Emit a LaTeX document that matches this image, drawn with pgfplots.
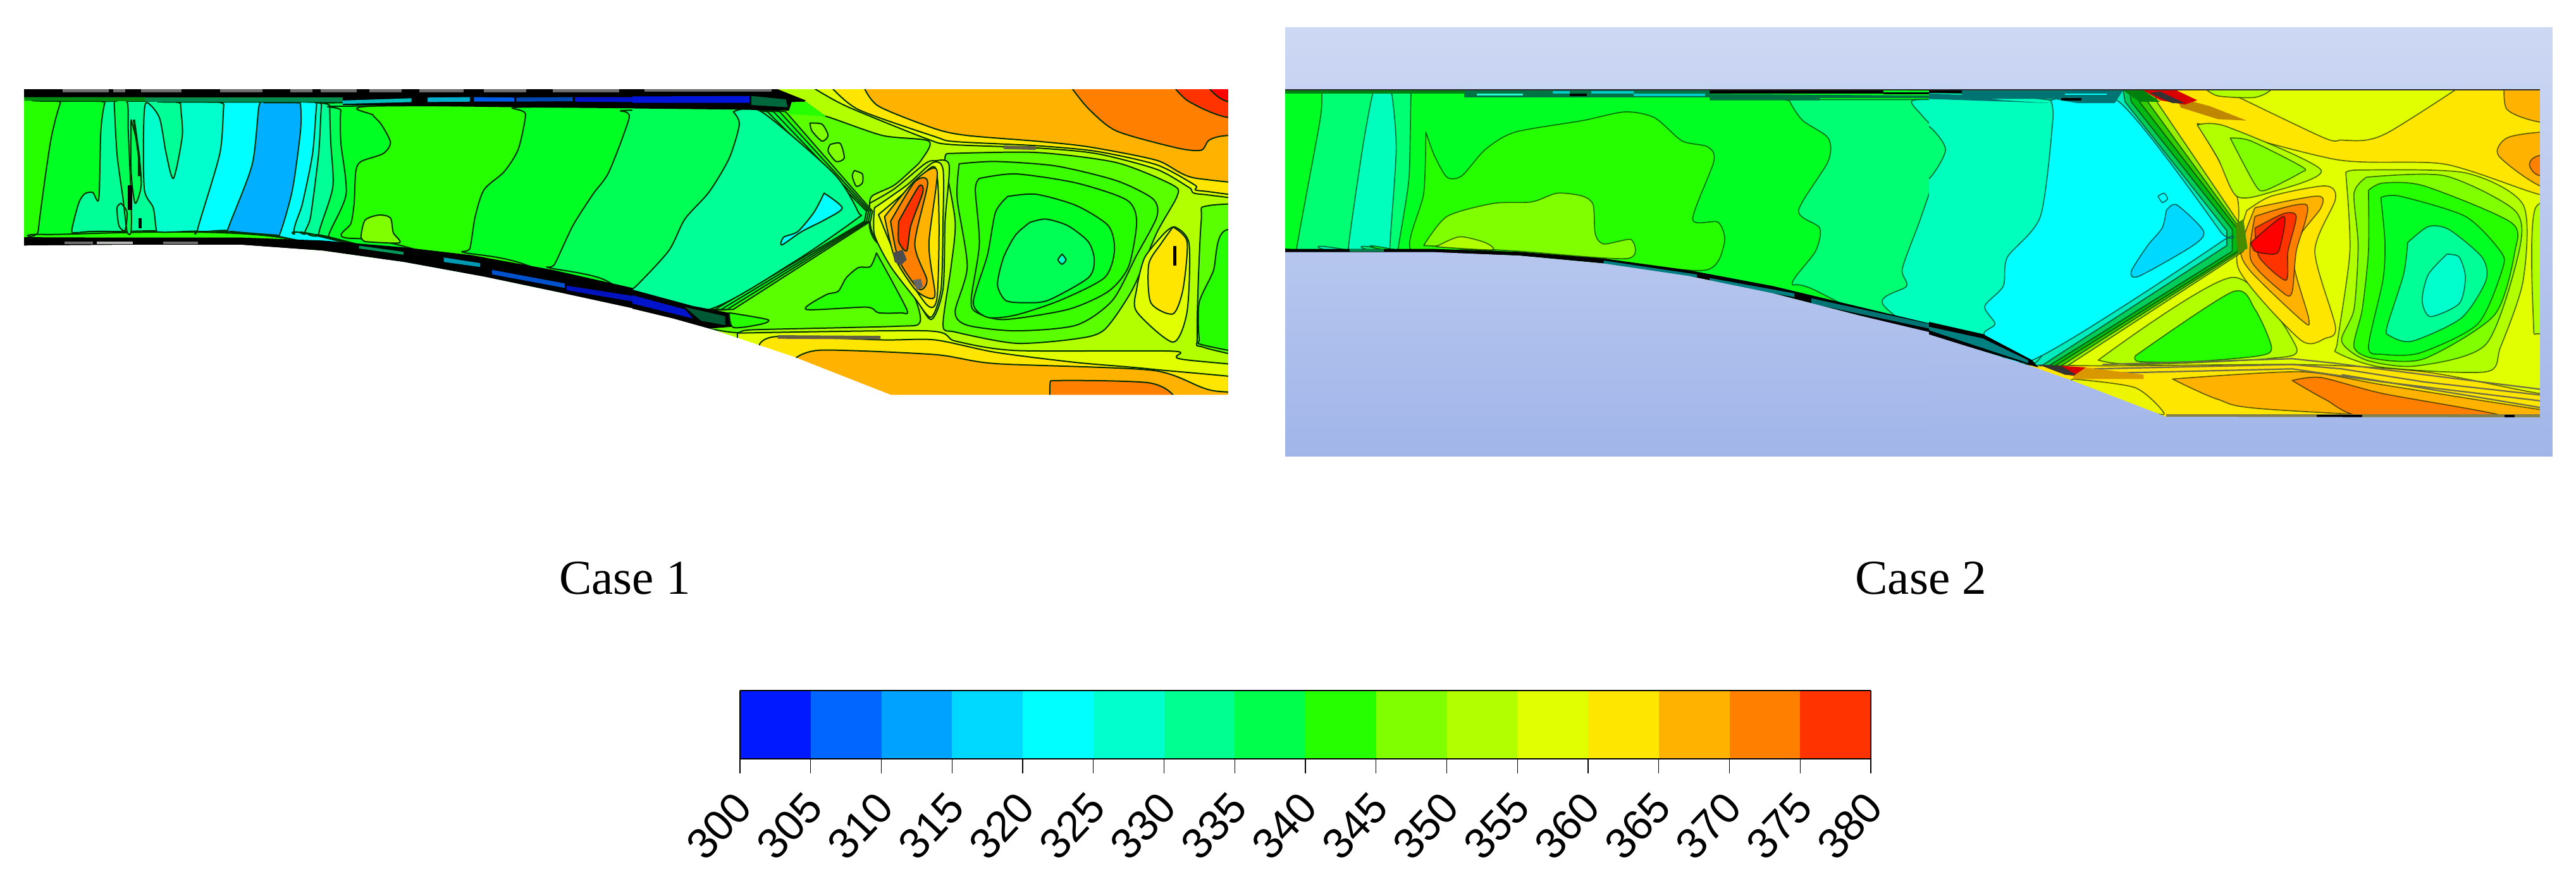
\documentclass[border=0pt]{standalone}
\usepackage{pgfplots}
\pgfplotsset{compat=1.18}
\usepackage{fontspec}
\setmainfont{Liberation Serif}
\newfontfamily\arialf{Liberation Sans}
\definecolor{c0}{RGB}{0,25,255}
\definecolor{c1}{RGB}{0,102,255}
\definecolor{c2}{RGB}{0,162,255}
\definecolor{c3}{RGB}{0,217,255}
\definecolor{c4}{RGB}{0,255,255}
\definecolor{c5}{RGB}{0,255,204}
\definecolor{c6}{RGB}{0,255,145}
\definecolor{c7}{RGB}{0,255,77}
\definecolor{c8}{RGB}{38,255,0}
\definecolor{c9}{RGB}{128,255,0}
\definecolor{c10}{RGB}{178,255,0}
\definecolor{c11}{RGB}{225,255,0}
\definecolor{c12}{RGB}{255,230,0}
\definecolor{c13}{RGB}{255,179,0}
\definecolor{c14}{RGB}{255,128,0}
\definecolor{c15}{RGB}{255,51,0}
\definecolor{g1}{RGB}{38,255,0}
\definecolor{g2}{RGB}{0,255,35}
\definecolor{g3}{RGB}{0,255,85}
\definecolor{g4}{RGB}{0,255,150}
\definecolor{g5}{RGB}{0,255,205}
\definecolor{gb}{RGB}{90,255,0}
\definecolor{b2}{RGB}{0,175,255}
\definecolor{dk}{RGB}{110,110,110}
\definecolor{w1}{RGB}{150,240,0}
\definecolor{w2}{RGB}{50,205,0}
\definecolor{w3}{RGB}{0,185,20}
\definecolor{w4}{RGB}{0,205,90}
\definecolor{w5}{RGB}{0,235,190}
\definecolor{bgT}{RGB}{205,216,244}
\definecolor{bgA}{RGB}{199,211,242}
\definecolor{bgB}{RGB}{161,181,233}
\definecolor{bgC}{RGB}{182,198,238}
\definecolor{bgD}{RGB}{174,191,236}
\definecolor{bgE}{RGB}{165,184,234}
\newcommand{\R}[2]{\addplot[fill=#1,ctl,smooth,tension=0.45,line join=round] coordinates {#2} --cycle;}
\newcommand{\Rl}[2]{\addplot[fill=#1,ctl,line join=round] coordinates {#2} --cycle;}
\newcommand{\Bg}[2]{\addplot[fill=#1,draw=none] coordinates {#2} --cycle;}
\newcommand{\Ln}[1]{\addplot[ctl,smooth,tension=0.45,line cap=round] coordinates {#1};}
\newcommand{\Sh}[3]{\addplot[top color=#1,bottom color=#2,draw=none] coordinates {#3} --cycle;}
\pgfplotsset{crop/.style={anchor=north west,scale only axis,hide axis,xmin=0,xmax=1568,ymin=0,ymax=1568,y dir=reverse,clip=true}}
\begin{document}
\begin{tikzpicture}
\path[use as bounding box,fill=white] (0,0) rectangle (1018.25pt,-347.5pt);
\tikzset{ctl/.style={draw=black!82!green,line width=0.5pt}}
% ---------------- Case 1, left
\begin{axis}[crop,at={(0pt,-25pt)},width=250pt,height=140pt]
\Bg{g1}{(0,100)(1600,100)(1600,1200)(0,1200)}
\R{g2}{(1650,168)(165,168)(150,175)(125,350)(95,740)(105,758)(700,772)(1650,1150)}
\R{g4}{(1650,168)(275,168)(260,175)(250,300)(245,600)(230,572)(210,578)(195,620)(178,740)(190,750)(270,745)(700,772)(1650,1150)}
\R{g3}{(283,170)(290,400)(305,600)(315,745)(325,745)(325,600)(318,300)(315,170)(283,170)}
\R{g5}{(1650,172)(460,172)(448,180)(452,320)(430,510)(412,400)(395,240)(362,175)(356,300)(358,560)(380,640)(388,740)(400,748)(700,772)(1650,1150)}
\R{g3}{(325,250)(343,380)(350,540)(335,620)(325,480)(325,250)}
\Ln{(300,620)(290,640)(295,720)(310,740)(315,660)(300,620)}
\addplot[black,line width=1.6pt] coordinates {(322,540)(322,650)};
\addplot[black,line width=1.2pt] coordinates {(347,685)(347,730)};
\addplot[black!80!green,line width=0.9pt] coordinates {(332,250)(345,420)(345,500)};
\R{c4}{(1650,172)(565,172)(555,185)(545,400)(490,735)(500,745)(700,770)(1650,1150)}
\R{b2}{(655,175)(642,190)(625,450)(565,735)(575,745)(680,760)(695,750)(725,560)(745,300)(745,185)(735,175)(655,175)}
\R{g5}{(1650,172)(790,172)(785,180)(775,400)(750,620)(730,752)(800,770)(1650,1150)}
\R{g4}{(1650,172)(805,172)(797,185)(790,400)(770,680)(757,755)(810,772)(1650,1150)}
\R{g3}{(1650,175)(830,175)(818,190)(820,350)(825,550)(790,758)(820,775)(1650,1150)}
\R{g2}{(1650,190)(860,190)(845,210)(845,350)(858,580)(815,762)(840,780)(1650,1150)}
\R{g1}{(1650,190)(925,190)(925,230)(945,270)(968,350)(950,400)(895,435)(882,480)(878,620)(870,710)(850,770)(1000,810)(1650,1150)}
\R{c9}{(905,790)(895,770)(905,695)(940,672)(968,685)(975,750)(990,795)(905,790)}
\R{g2}{(1650,195)(1285,195)(1303,225)(1285,380)(1250,480)(1200,560)(1178,680)(1165,820)(1150,838)(1300,890)(1650,1150)}
\R{g3}{(1650,210)(1540,210)(1560,240)(1510,480)(1470,580)(1420,720)(1375,890)(1360,905)(1500,960)(1650,1150)}
% boundary layers
\Bg{black}{(0,115)(1600,115)(1600,200)(1285,195)(850,185)(850,152)(0,152)}
\Bg{g2!55!black}{(60,150)(360,150)(360,168)(60,166)}
\Bg{g4!55!black}{(360,152)(850,152)(850,172)(360,170)}
\Bg{c4!75!black}{(850,165)(1020,155)(1020,172)(850,180)}
\Bg{c3!80!black}{(1060,152)(1165,150)(1165,170)(1060,172)}
\Bg{c1!90!black}{(1175,150)(1275,152)(1275,170)(1175,170)}
\Bg{c1!70!black}{(1280,152)(1420,150)(1420,168)(1280,170)}
\Bg{c0!80!black}{(1425,150)(1568,150)(1568,172)(1425,170)}
\Bg{dk}{(155,115)(270,115)(270,128)(155,128)}\Bg{dk}{(280,115)(310,115)(310,128)(280,128)}\Bg{dk}{(350,115)(450,115)(450,128)(350,128)}\Bg{dk}{(545,115)(650,115)(650,128)(545,128)}\Bg{dk}{(720,115)(775,115)(775,128)(720,128)}\Bg{dk}{(795,115)(885,115)(885,128)(795,128)}\Bg{dk}{(915,115)(995,115)(995,128)(915,128)}\Bg{dk}{(1040,115)(1150,115)(1150,128)(1040,128)}\Bg{dk}{(1200,115)(1305,115)(1305,128)(1200,128)}\Bg{dk}{(1370,115)(1535,115)(1535,128)(1370,128)}
\Bg{black}{(0,770)(300,772)(600,772)(800,785)(1000,815)(1170,850)(1370,915)(1568,995)(1600,1010)(1600,1110)(1400,1020)(1200,945)(1000,880)(800,830)(600,805)(300,805)(0,810)}
\Bg{g4!60!black}{(890,808)(1000,835)(1000,848)(890,820)}
\Bg{c3!70!black}{(1100,860)(1190,885)(1190,902)(1100,880)}
\Bg{c1!80!black}{(1220,915)(1400,975)(1400,995)(1220,935)}
\Bg{c0!75!black}{(1405,985)(1568,1030)(1568,1055)(1405,1005)}
\Bg{dk}{(160,790)(230,790)(230,802)(160,802)}\Bg{dk!50!white}{(240,790)(330,790)(330,802)(240,802)}\Bg{dk}{(405,790)(490,790)(490,802)(405,802)}
% masks
\Bg{white}{(0,808)(300,804)(600,804)(800,830)(1000,880)(1200,945)(1400,1020)(1568,1085)(1650,1120)(1650,1600)(0,1600)}
\Bg{white}{(-5,-5)(60,-5)(60,1600)(-5,1600)}
\Bg{white}{(0,-5)(1600,-5)(1600,115)(0,115)}
\end{axis}
% ---------------- Case 1, right
\begin{axis}[crop,at={(250pt,-25pt)},width=250pt,height=140pt]
\Bg{c10}{(-10,100)(1600,100)(1600,1600)(-10,1600)}
\R{c11}{(440,100)(530,190)(730,335)(790,360)(1000,375)(1150,400)(1300,470)(1380,550)(1410,580)(1650,580)(1650,100)}
\R{c12}{(490,100)(560,205)(750,325)(800,347)(1000,365)(1150,390)(1300,450)(1395,540)(1410,565)(1650,570)(1650,100)}
\R{c13}{(572,100)(610,190)(750,290)(830,320)(1000,345)(1130,370)(1300,430)(1400,510)(1650,510)(1650,100)}
\R{c14}{(1085,100)(1130,200)(1200,300)(1350,375)(1410,385)(1430,340)(1477,320)(1650,320)(1650,100)}
\R{c15}{(1340,100)(1380,170)(1477,240)(1650,240)(1650,100)}
\R{red}{(1425,100)(1477,170)(1650,180)(1650,100)}
\R{c11}{(260,1195)(730,1185)(800,1230)(950,1272)(1340,1275)(1360,1310)(1650,1380)(1650,1600)(260,1600)}
\R{c12}{(315,1245)(360,1210)(620,1225)(750,1225)(900,1280)(1100,1325)(1290,1355)(1650,1430)(1650,1600)(315,1600)}
\R{c13}{(405,1305)(470,1270)(750,1290)(900,1330)(1290,1360)(1440,1450)(1650,1470)(1650,1600)(405,1600)}
\R{c14}{(1040,1600)(1035,1425)(1060,1405)(1280,1415)(1345,1480)(1345,1600)}
\addplot[black!70!yellow,line width=1.4pt] coordinates {(360,1212)(615,1215)};
\addplot[black!70!yellow,line width=1.4pt] coordinates {(920,372)(1000,376)};
% vortex boxes
\R{gb}{(780,400)(1000,395)(1200,440)(1340,540)(1350,590)(1300,750)(1240,1000)(1170,1180)(1100,1220)(950,1240)(800,1190)(770,1160)(790,900)(800,700)(775,440)(780,400)}
\R{c8!60!gb}{(810,445)(900,435)(1050,455)(1200,520)(1290,600)(1300,680)(1250,850)(1190,1050)(1100,1160)(950,1185)(830,1160)(800,1100)(830,900)(805,600)(810,445)}
\R{c8}{(860,510)(950,490)(1100,530)(1225,605)(1250,700)(1230,900)(1180,1010)(1080,1090)(920,1135)(850,1100)(840,1040)(860,800)(850,560)(860,510)}
\R{g2}{(930,590)(1000,580)(1100,630)(1180,720)(1195,830)(1170,950)(1060,1050)(950,1115)(880,1125)(845,1060)(880,850)(900,660)(930,590)}
\R{g3}{(985,705)(1025,690)(1080,720)(1130,790)(1145,870)(1130,950)(1030,1050)(970,1060)(925,1050)(905,980)(920,860)(950,760)(985,705)}
\R{g5}{(1065,845)(1075,870)(1065,890)(1055,870)(1065,845)}
% lens
\R{c11}{(1320,750)(1345,725)(1380,800)(1375,1100)(1340,1235)(1250,1100)(1250,1000)(1270,860)(1320,750)}
\R{c12}{(1340,725)(1375,790)(1365,1000)(1340,1110)(1285,1060)(1280,890)(1310,800)(1340,725)}
\addplot[black,line width=1.2pt] coordinates {(1345,810)(1345,895)};
\R{gb}{(1650,615)(1430,630)(1410,700)(1400,1200)(1420,1260)(1650,1350)}
\R{c8}{(1650,740)(1470,740)(1440,920)(1405,1060)(1405,1220)(1420,1250)(1650,1330)}
% post-shock zones
\R{gb}{(-50,100)(385,195)(480,235)(620,320)(735,345)(716,429)(690,476)(648,541)(594,588)(588,635)(588,728)(601,784)(638,849)(700,1040)(712,1150)(650,1165)(300,1180)(240,1190)(-50,1100)}
\R{c9}{(440,265)(470,270)(485,320)(470,345)(445,300)(440,265)}
\R{c9}{(490,360)(515,355)(525,420)(505,435)(485,390)(490,360)}
\R{c9}{(550,475)(570,490)(570,530)(555,545)(545,500)(550,475)}
\R{c8}{(605,840)(680,1090)(665,1105)(610,1105)(580,1080)(430,1090)(480,1025)(510,1010)(530,950)(560,905)(590,900)(605,840)}
% plume
\R{c10}{(588,620)(650,555)(725,445)(749,432)(785,450)(775,700)(770,1000)(740,1135)(690,1000)(600,770)(588,680)(588,620)}
\R{c11}{(600,640)(680,540)(745,440)(770,470)(770,700)(765,1000)(740,1125)(700,1040)(640,900)(600,760)(600,640)}
\R{c12}{(610,670)(690,550)(750,460)(760,700)(755,1040)(730,1070)(660,880)(610,670)}
\R{c13}{(625,680)(700,520)(755,475)(735,800)(750,1020)(735,1040)(700,1000)(650,860)(625,680)}
\R{c14}{(640,700)(700,525)(732,530)(700,800)(730,960)(710,1000)(660,870)(640,700)}
\R{c15}{(660,700)(710,545)(720,570)(690,720)(680,830)(660,790)(660,700)}
\Bg{black!70}{(645,840)(670,825)(680,870)(665,895)(650,880)}
\Bg{black!60}{(695,960)(715,955)(720,990)(705,1005)}
% shock wedges
\Rl{c8}{(-50,100)(380,215)(595,655)(590,700)(250,1090)(-50,1110)}
\Rl{g2}{(-50,100)(365,215)(590,655)(585,700)(235,1090)(-50,1110)}
\Rl{g2!50!g3}{(-50,100)(350,215)(585,655)(580,700)(220,1090)(-50,1110)}
\Rl{g3}{(-50,100)(335,215)(580,655)(575,700)(205,1090)(-50,1110)}
\R{g4}{(250,215)(265,270)(240,420)(190,570)(130,690)(90,830)(10,985)(-30,1040)(-30,1100)(190,1090)(400,880)(555,690)(560,660)(500,490)(320,215)(250,215)}
\R{c4}{(475,575)(520,640)(480,690)(420,745)(370,805)(375,770)(410,745)(450,660)(475,575)}
% boundary
\Bg{black}{(-5,115)(360,115)(430,165)(400,210)(250,205)(-5,200)}
\Bg{c0!85!black}{(-5,147)(290,145)(290,175)(-5,175)}
\Bg{dk}{(30,115)(345,115)(345,127)(30,127)}
\Bg{g4!40!black}{(295,145)(380,160)(385,195)(295,185)}
\Bg{g1}{(395,172)(430,170)(480,235)(385,225)}
\Bg{black}{(-5,1000)(150,1075)(240,1105)(260,1165)(190,1175)(-5,1090)}
\Bg{c0!80!black}{(-5,1025)(130,1090)(150,1130)(-5,1062)}
\Bg{g4!35!black}{(130,1080)(230,1120)(230,1160)(170,1140)}
\R{g1}{(240,1105)(335,1135)(320,1155)(250,1170)(240,1105)}
% masks
\Bg{white}{(-5,1085)(100,1130)(200,1180)(400,1300)(640,1468)(1650,1468)(1650,1600)(-5,1600)}
\Bg{white}{(1477,-5)(1650,-5)(1650,1600)(1477,1600)}
\Bg{white}{(-5,-5)(1650,-5)(1650,115)(-5,115)}
\end{axis}
% ---------------- Case 2, left
\tikzset{ctl/.style={draw=black!90!green,draw opacity=0.62,line width=0.42pt}}
\begin{axis}[crop,at={(500pt,-7.5pt)},width=262.5pt,height=180pt]
\Bg{g2}{(-10,200)(1650,200)(1650,1200)(-10,1200)}
\R{g3!55!g4}{(1650,245)(150,245)(135,255)(130,350)(75,790)(85,800)(1650,1200)}
\R{g4!30!g5}{(1650,245)(270,245)(255,255)(230,450)(197,790)(210,800)(1650,1200)}
\R{g3!55!g4}{(1650,245)(290,245)(300,260)(310,450)(295,790)(305,800)(1650,1200)}
\R{g2}{(1650,245)(355,245)(345,260)(340,550)(315,790)(325,800)(1650,1200)}
\R{c8}{(380,390)(400,470)(430,545)(465,540)(520,450)(590,390)(750,350)(850,320)(920,340)(985,420)(1045,440)(1060,490)(1010,690)(1070,700)(1085,770)(1040,865)(800,835)(500,795)(345,795)(375,600)(380,390)}
\R{c9}{(375,780)(430,680)(540,635)(630,630)(690,600)(750,610)(775,640)(780,740)(800,775)(865,760)(855,825)(600,800)(375,780)}
\R{c10}{(410,780)(460,750)(520,770)(535,795)(410,785)(410,780)}
\R{g3!55!g4}{(1650,278)(1255,278)(1240,285)(1270,350)(1330,410)(1330,490)(1260,660)(1310,720)(1300,800)(1245,910)(1300,935)(1650,1200)}
\R{g4!30!g5}{(1650,280)(1530,280)(1550,330)(1580,380)(1600,450)(1580,550)(1545,700)(1505,860)(1515,920)(1460,985)(1650,1200)}
% top band
\Bg{dk!40!black}{(48,240)(1568,240)(1568,246)(48,246)}
\Bg{g2!50!black}{(48,246)(470,246)(470,256)(48,256)}
\Bg{g4!45!black}{(470,246)(1050,246)(1050,270)(470,270)}
\Bg{c5!85!white}{(500,256)(610,256)(610,264)(500,264)}
\Bg{c4!80!black}{(680,248)(720,248)(720,258)(680,258)}
\Bg{black}{(720,256)(760,256)(760,266)(720,266)}
\Bg{c4!80!black}{(770,248)(870,248)(870,258)(770,258)}
\Bg{c4!80!black}{(870,258)(1040,258)(1040,265)(870,265)}
\Bg{black}{(1050,246)(1460,246)(1460,258)(1050,258)}
\Bg{g4!45!black}{(1050,258)(1568,264)(1568,272)(1310,272)(1310,280)(1050,280)}
\Bg{black}{(1460,252)(1568,252)(1568,260)(1460,260)}
% bottom band
\Bg{black}{(48,792)(400,792)(600,802)(800,825)(1000,865)(1200,920)(1400,990)(1568,1048)(1650,1080)(1650,1110)(1568,1080)(1400,1020)(1200,945)(1000,885)(800,842)(600,815)(400,805)(48,805)}
\Bg{g4!50!black}{(200,792)(280,792)(280,802)(200,802)}
\Bg{c4!50!black}{(800,832)(1020,880)(1020,890)(800,842)}
\Bg{c4!50!black}{(1050,892)(1250,945)(1250,958)(1050,905)}
\Bg{c4!45!black}{(1290,962)(1568,1050)(1568,1066)(1290,980)}
% background
\Sh{bgT}{bgA}{(-10,28)(1650,28)(1650,240)(-10,240)}
\Sh{bgC}{bgB}{(-10,803)(400,803)(600,815)(800,842)(1000,885)(1200,945)(1400,1020)(1568,1078)(1650,1110)(1650,1508)(-10,1508)}
\Bg{white}{(-10,-5)(48,-5)(48,1600)(-10,1600)}
\Bg{white}{(-10,-5)(1650,-5)(1650,28)(-10,28)}
\Bg{white}{(-10,1508)(1650,1508)(1650,1600)(-10,1600)}
\end{axis}
% ---------------- Case 2, right
\begin{axis}[crop,at={(762.5pt,-7.5pt)},width=255.75pt,height=180pt]
\Bg{c12}{(-10,200)(1600,200)(1600,1450)(-10,1450)}
\R{c11}{(650,200)(950,405)(1000,417)(1060,417)(1120,385)(1290,230)(1300,200)}
\R{c10}{(665,235)(700,265)(790,270)(830,240)(800,200)(665,200)}
\R{c13}{(1395,200)(1400,310)(1480,355)(1600,355)(1600,200)}
\R{c13}{(1600,390)(1481,390)(1400,410)(1380,470)(1481,575)(1600,600)}
\R{c14}{(1600,470)(1481,470)(1455,500)(1481,540)(1600,540)}
\R{c11}{(650,360)(990,485)(1250,500)(1481,605)(1600,620)(1600,1295)(1481,1290)(1200,1215)(900,1190)(300,1190)(420,1100)(600,880)(735,760)(748,620)(700,480)(650,360)}
\R{c10}{(650,365)(720,370)(950,520)(820,600)(745,610)(700,480)(650,365)}
\R{c9}{(730,410)(780,420)(905,510)(900,530)(815,590)(790,570)(730,410)}
\R{c10}{(410,1175)(735,890)(890,1130)(820,1170)(500,1190)(410,1175)}
\R{c8}{(500,1160)(735,940)(790,1000)(830,1130)(800,1160)(640,1180)(510,1180)(500,1160)}
% hot spot
\R{c12}{(770,660)(830,610)(960,575)(985,620)(935,800)(985,1060)(960,1100)(900,1105)(750,860)(770,660)}
\R{c13}{(790,650)(940,610)(950,650)(880,800)(920,1030)(905,1040)(780,870)(755,790)(790,650)}
\R{c14}{(790,680)(915,640)(890,800)(880,940)(860,945)(780,830)(790,680)}
\R{c15}{(790,720)(860,670)(890,680)(870,800)(865,900)(800,820)(790,720)}
\R{red}{(780,770)(860,680)(850,790)(835,810)(790,800)(780,770)}
% vortex
\R{c10}{(1010,530)(1045,520)(1300,530)(1440,640)(1440,900)(1385,1130)(1350,1215)(1100,1200)(990,1150)(990,1110)(1020,800)(1010,530)}
\R{c9}{(1060,545)(1250,540)(1420,660)(1430,800)(1350,1120)(1180,1195)(1060,1175)(1000,1110)(1030,1000)(1040,780)(1030,600)(1060,545)}
\R{c8}{(1065,590)(1100,565)(1200,575)(1410,700)(1420,800)(1370,1020)(1200,1170)(1080,1170)(1030,1130)(1050,1000)(1065,800)(1065,590)}
\R{g2}{(1095,615)(1140,610)(1300,680)(1385,800)(1390,860)(1330,1050)(1190,1150)(1100,1155)(1065,1130)(1100,900)(1105,770)(1095,615)}
\R{g4}{(1160,770)(1210,715)(1260,725)(1340,820)(1350,900)(1290,1030)(1170,1110)(1115,1090)(1110,1060)(1150,880)(1160,770)}
\R{c5}{(1255,810)(1285,820)(1300,890)(1285,980)(1215,1025)(1195,970)(1210,880)(1255,810)}
\R{c10}{(1600,640)(1470,650)(1465,1050)(1481,1085)(1600,1100)}
% lower hot layers
\R{c13}{(590,1240)(900,1215)(1100,1260)(1481,1345)(1600,1360)(1600,1400)(830,1345)(700,1310)(590,1240)}
\R{c14}{(880,1245)(950,1235)(1100,1290)(1400,1372)(1060,1372)(960,1310)(880,1245)}
\R{c11!60!c12}{(350,1240)(500,1270)(570,1360)(500,1340)(350,1260)(350,1240)}
\addplot[black!65!yellow,line width=0.55pt] coordinates {(420,1190)(880,1170)(980,1185)(1200,1225)(1481,1275)};
\addplot[black!65!yellow,line width=0.55pt] coordinates {(400,1205)(880,1190)(1000,1205)(1200,1250)(1481,1295)};
\addplot[black!65!yellow,line width=0.55pt] coordinates {(430,1220)(880,1205)(1100,1250)(1481,1315)};
\addplot[black!65!yellow,line width=0.55pt] coordinates {(1000,1225)(1481,1338)};
% shock wedges
\Rl{w1}{(-50,200)(540,200)(552,285)(762,725)(762,800)(335,1195)(-50,1150)}
\Rl{w2}{(-50,200)(520,200)(530,285)(755,725)(755,800)(320,1195)(-50,1150)}
\Rl{w3}{(-50,200)(500,200)(510,285)(748,725)(748,800)(305,1195)(-50,1150)}
\Rl{w4}{(-50,200)(480,200)(490,285)(735,725)(735,800)(290,1195)(-50,1150)}
\Rl{w5}{(-50,200)(465,200)(475,285)(722,730)(722,780)(272,1195)(-50,1150)}
\R{g4!30!g5}{(-50,250)(-50,1150)(135,1090)(250,1190)(350,1000)(600,700)(500,400)(295,280)(-50,250)}
\R{g3!55!g4}{(-50,365)(0,370)(40,450)(0,550)(-50,560)}
\R{c4}{(295,280)(300,350)(270,680)(190,820)(180,920)(135,990)(160,1050)(135,1090)(250,1175)(705,770)(705,730)(460,285)(295,280)}
\R{c3}{(575,660)(600,640)(665,730)(640,780)(510,885)(490,870)(530,780)(565,720)(575,660)}
\R{c4}{(555,610)(570,600)(578,620)(565,632)(555,610)}
\Bg{black!45!c9}{(742,705)(762,690)(772,790)(748,810)}
% top band
\Bg{dk!40!black}{(-10,240)(1481,240)(1481,246)(-10,246)}
\Bg{black}{(-10,246)(80,246)(80,255)(-10,255)}
\Bg{c4!45!black}{(-10,255)(80,262)(180,280)(300,290)(-10,275)}
\Bg{c4!45!black}{(80,246)(470,246)(450,290)(360,290)(300,275)(80,275)}
\Bg{c4}{(330,256)(430,256)(430,262)(330,262)}
\Bg{black}{(320,272)(370,272)(370,280)(320,280)}
\Bg{w3!70!black}{(470,246)(520,246)(560,285)(510,285)}
\Bg{c13!75!black}{(600,270)(680,300)(770,350)(700,345)(610,305)}
\Bg{red!85!black}{(520,246)(600,246)(650,280)(620,295)(560,280)}
\Bg{black!80}{(535,255)(560,250)(620,290)(590,290)}
% bottom band
\Bg{black}{(-10,1040)(130,1085)(250,1175)(265,1200)(-10,1085)}
\Bg{c4!50!black}{(0,1060)(130,1100)(240,1175)(240,1185)(0,1072)}
\Bg{red!85!black}{(265,1190)(380,1200)(360,1230)(330,1225)}
\Bg{black!80}{(265,1190)(320,1195)(360,1228)(330,1225)}
\Bg{c13!85!black}{(380,1200)(520,1225)(520,1240)(350,1240)(350,1230)}
% background
\Bg{black!55!yellow}{(575,1362)(1481,1362)(1481,1372)(575,1372)}
\Bg{black}{(940,1364)(1050,1364)(1050,1372)(940,1372)}
\Bg{black}{(1395,1364)(1420,1364)(1420,1372)(1395,1372)}
\Sh{bgT}{bgA}{(-10,28)(1511,28)(1511,240)(-10,240)}
\Sh{bgA}{bgE}{(1481,240)(1511,240)(1511,1372)(1481,1372)}
\Sh{bgD}{bgB}{(-10,1082)(250,1197)(350,1247)(575,1370)(1511,1372)(1511,1508)(-10,1508)}
\Bg{white}{(1511,-5)(1650,-5)(1650,1600)(1511,1600)}
\Bg{white}{(-10,-5)(1650,-5)(1650,28)(-10,28)}
\Bg{white}{(-10,1508)(1650,1508)(1650,1600)(-10,1600)}
\end{axis}
% ---------------- colour bar
\begin{axis}[anchor=north west,at={(292.5pt,-273pt)},scale only axis,width=447pt,height=27pt,
 xmin=300,xmax=380,ymin=0,ymax=1,ytick=\empty,
 xtick={300,305,310,315,320,325,330,335,340,345,350,355,360,365,370,375,380},
 axis line style={black,line width=0.3pt},
 axis x line*=bottom,axis y line=box,
 tick align=outside,major tick length=5.8pt,tick style={black,line width=0.3pt},
 /pgf/number format/assume math mode=true,
 xticklabel style={font=\arialf\fontsize{17}{17}\selectfont,xshift=1.5pt,yshift=-10.2pt,rotate=47,anchor=east,inner sep=0pt},
 clip=false]
\Bg{c0}{(300,0)(305,0)(305,1)(300,1)}
\Bg{c1}{(305,0)(310,0)(310,1)(305,1)}
\Bg{c2}{(310,0)(315,0)(315,1)(310,1)}
\Bg{c3}{(315,0)(320,0)(320,1)(315,1)}
\Bg{c4}{(320,0)(325,0)(325,1)(320,1)}
\Bg{c5}{(325,0)(330,0)(330,1)(325,1)}
\Bg{c6}{(330,0)(335,0)(335,1)(330,1)}
\Bg{c7}{(335,0)(340,0)(340,1)(335,1)}
\Bg{c8}{(340,0)(345,0)(345,1)(340,1)}
\Bg{c9}{(345,0)(350,0)(350,1)(345,1)}
\Bg{c10}{(350,0)(355,0)(355,1)(350,1)}
\Bg{c11}{(355,0)(360,0)(360,1)(355,1)}
\Bg{c12}{(360,0)(365,0)(365,1)(360,1)}
\Bg{c13}{(365,0)(370,0)(370,1)(365,1)}
\Bg{c14}{(370,0)(375,0)(375,1)(370,1)}
\Bg{c15}{(375,0)(380,0)(380,1)(375,1)}
\addplot[black,line width=0.7pt] coordinates {(300,1)(380,1)};
\addplot[black,line width=0.7pt] coordinates {(300,0)(380,0)};
\addplot[black,line width=0.3pt] coordinates {(300,0)(300,1)};
\addplot[black,line width=0.3pt] coordinates {(380,0)(380,1)};
\end{axis}
\node[font=\fontsize{19.3}{23}\selectfont,anchor=center] at (247pt,-228.7pt) {Case 1};
\node[font=\fontsize{19.3}{23}\selectfont,anchor=center] at (759.3pt,-228.7pt) {Case 2};
\end{tikzpicture}
\end{document}
